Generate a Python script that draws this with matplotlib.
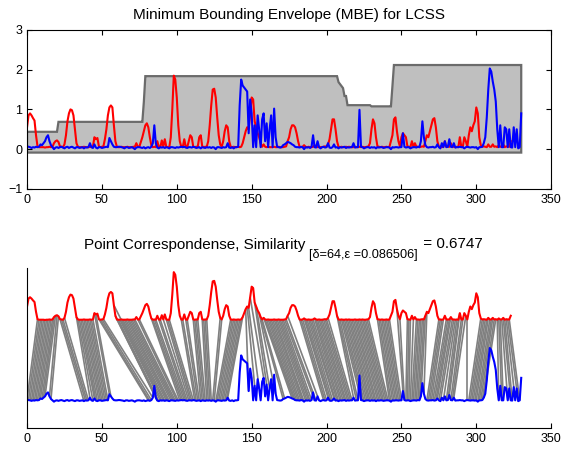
import numpy as np
import matplotlib.pyplot as plt
from matplotlib.collections import LineCollection

plt.rcParams['font.family'] = ['Liberation Sans', 'DejaVu Sans']

# query (red) and candidate (blue) series
red = [0.55, 0.85, 0.9, 0.85, 0.78, 0.72, 0.35, 0.07, 0.05, 0.05,
       0.05, 0.05, 0.04, 0.05, 0.05, 0.06, 0.05, 0.06, 0.15, 0.2,
       0.22, 0.18, 0.07, 0.06, 0.05, 0.12, 0.35, 0.7, 0.9, 1.0,
       0.98, 0.85, 0.5, 0.15, 0.06, 0.05, 0.05, 0.05, 0.06, 0.05,
       0.05, 0.05, 0.06, 0.05, 0.06, 0.3, 0.25, 0.28, 0.07, 0.05,
       0.06, 0.07, 0.25, 0.5, 0.85, 1.05, 1.1, 1.05, 0.6, 0.2,
       0.06, 0.05, 0.05, 0.06, 0.05, 0.05, 0.05, 0.06, 0.05, 0.05,
       0.05, 0.06, 0.06, 0.15, 0.06, 0.06, 0.18, 0.3, 0.45, 0.6,
       0.65, 0.55, 0.3, 0.1, 0.05, 0.06, 0.05, 0.2, 0.06, 0.05,
       0.22, 0.06, 0.25, 0.06, 0.05, 0.05, 0.3, 1.0, 1.85, 1.75,
       1.3, 0.6, 0.2, 0.06, 0.05, 0.25, 0.06, 0.05, 0.2, 0.35,
       0.3, 0.06, 0.05, 0.06, 0.06, 0.3, 0.35, 0.07, 0.05, 0.06,
       0.06, 0.2, 0.6, 1.1, 1.5, 1.52, 1.3, 0.8, 0.35, 0.12,
       0.06, 0.2, 0.45, 0.6, 0.55, 0.2, 0.06, 0.05, 0.06, 0.05,
       0.05, 0.06, 0.05, 0.06, 0.15, 0.3, 0.45, 0.55, 0.5, 0.9,
       1.3, 1.25, 0.7, 0.55, 0.4, 0.3, 0.15, 0.06, 0.12, 0.06,
       0.05, 0.06, 0.05, 0.05, 0.05, 0.06, 0.05, 0.05, 0.06, 0.05,
       0.05, 0.05, 0.06, 0.07, 0.2, 0.3, 0.5, 0.6, 0.6, 0.55,
       0.4, 0.2, 0.06, 0.05, 0.06, 0.1, 0.06, 0.05, 0.06, 0.05,
       0.05, 0.06, 0.1, 0.06, 0.05, 0.06, 0.05, 0.05, 0.06, 0.07,
       0.06, 0.12, 0.25, 0.5, 0.75, 0.75, 0.5, 0.2, 0.06, 0.05,
       0.06, 0.05, 0.05, 0.06, 0.05, 0.06, 0.05, 0.05, 0.05, 0.06,
       0.05, 0.05, 0.06, 0.05, 0.06, 0.05, 0.05, 0.06, 0.07, 0.15,
       0.5, 0.75, 0.65, 0.3, 0.07, 0.06, 0.05, 0.06, 0.05, 0.05,
       0.06, 0.05, 0.06, 0.2, 0.35, 0.75, 0.8, 0.45, 0.2, 0.07,
       0.3, 0.4, 0.35, 0.3, 0.07, 0.06, 0.05, 0.2, 0.06, 0.15,
       0.06, 0.06, 0.05, 0.06, 0.07, 0.06, 0.2, 0.35, 0.3, 0.45,
       0.6, 0.75, 0.78, 0.55, 0.2, 0.06, 0.06, 0.05, 0.06, 0.2,
       0.06, 0.06, 0.06, 0.15, 0.06, 0.06, 0.05, 0.06, 0.05, 0.3,
       0.06, 0.06, 0.3, 0.2, 0.06, 0.35, 0.55, 0.45, 0.6, 0.7,
       1.05, 0.9, 0.3, 0.1, 0.06, 0.07, 0.06, 0.05, 0.12, 0.06,
       0.06, 0.12, 0.06, 0.07, 0.05, 0.1, 0.06, 0.06, 0.12, 0.05,
       0.07, 0.06, 0.06, 0.2]

blue = [0.07, 0.06, 0.05, 0.03, 0.05, 0.04, 0.06, 0.05, 0.06, 0.12,
        0.1, 0.15, 0.2, 0.3, 0.35, 0.2, 0.1, 0.05, 0.0, 0.04,
        0.05, 0.03, 0.05, 0.06, 0.04, 0.02, 0.05, 0.06, 0.03, 0.05,
        0.06, 0.04, 0.02, 0.05, 0.05, 0.03, 0.04, 0.05, 0.02, 0.05,
        0.04, 0.05, 0.15, 0.05, 0.03, 0.12, 0.04, 0.02, 0.05, 0.05,
        0.03, 0.04, 0.05, 0.06, 0.05, 0.28, 0.2, 0.12, 0.06, 0.05,
        0.05, 0.06, 0.06, 0.05, 0.04, 0.02, 0.05, 0.05, 0.03, 0.04,
        0.05, 0.03, 0.0, 0.04, 0.05, 0.05, 0.04, 0.03, 0.05, 0.02,
        0.04, 0.05, 0.03, 0.06, 0.15, 0.6, 0.15, 0.04, 0.02, 0.05,
        0.04, 0.05, 0.03, 0.05, 0.04, 0.02, 0.05, 0.05, 0.04, 0.03,
        0.05, 0.04, 0.05, 0.06, 0.05, 0.06, 0.04, 0.03, 0.05, 0.05,
        0.04, 0.06, 0.05, 0.03, 0.04, 0.05, 0.02, 0.05, 0.04, 0.03,
        0.05, 0.04, 0.05, 0.03, 0.05, 0.04, 0.0, 0.05, 0.05, 0.04,
        0.03, 0.05, 0.04, 0.05, 0.15, 0.04, 0.03, 0.05, 0.02, 0.05,
        0.05, 0.06, 1.1, 1.75, 1.6, 1.55, 1.5, 1.45, 0.4, 1.25,
        0.9, 0.05, 0.6, 0.05, 0.85, 0.5, 0.05, 0.75, 0.9, 0.2,
        0.65, 0.05, 0.5, 0.85, 0.05, 1.02, 0.3, 0.06, 0.05, 0.04,
        0.05, 0.1, 0.12, 0.15, 0.18, 0.17, 0.15, 0.12, 0.1, 0.06,
        0.05, 0.05, 0.04, 0.06, 0.05, 0.0, 0.05, 0.04, 0.05, 0.03,
        0.06, 0.35, 0.05, 0.04, 0.2, 0.05, 0.02, 0.05, 0.06, 0.04,
        0.05, 0.15, 0.04, 0.03, 0.05, 0.12, 0.04, 0.05, 0.02, 0.05,
        0.04, 0.05, 0.06, 0.03, 0.05, 0.04, 0.05, 0.05, 0.15, 0.04,
        0.05, 0.05, 0.99, 0.06, 0.05, 0.02, 0.04, 0.05, 0.05, 0.03,
        0.05, 0.04, 0.05, 0.02, 0.05, 0.04, 0.05, 0.05, 0.03, 0.04,
        0.05, 0.05, 0.04, 0.0, 0.05, 0.04, 0.05, 0.05, 0.04, 0.05,
        0.05, 0.4, 0.06, 0.04, 0.05, 0.05, 0.02, 0.04, 0.05, 0.05,
        0.04, 0.06, 0.05, 0.2, 0.7, 0.3, 0.1, 0.05, 0.04, 0.05,
        0.05, 0.06, 0.04, 0.05, 0.12, 0.05, 0.02, 0.15, 0.05, 0.2,
        0.05, 0.06, 0.25, 0.06, 0.05, 0.15, 0.04, 0.05, 0.05, 0.06,
        0.05, 0.05, 0.02, 0.05, 0.06, 0.05, 0.04, 0.05, 0.05, 0.04,
        0.05, 0.0, 0.05, 0.05, 0.06, 0.15, 0.3, 0.8, 1.5, 2.03,
        1.95, 1.7, 1.5, 1.2, 0.5, 0.05, 0.6, 0.05, 0.05, 0.55,
        0.5, 0.05, 0.5, 0.05, 0.04, 0.55, 0.05, 0.5, 0.02, 0.05, 0.9]

delta = 64
eps = 0.086506
similarity = 0.6747
offset = 3.05


def lcss_pairs(a, b, d, e):
    n, m = len(a), len(b)
    L = np.zeros((n + 1, m + 1), dtype=int)
    for i in range(1, n + 1):
        for j in range(1, m + 1):
            if abs(a[i-1] - b[j-1]) < e and abs(i - j) <= d:
                L[i, j] = L[i-1, j-1] + 1
            else:
                L[i, j] = max(L[i-1, j], L[i, j-1])
    pairs = []
    i, j = n, m
    while i > 0 and j > 0:
        if abs(a[i-1] - b[j-1]) < e and abs(i - j) <= d and L[i, j] == L[i-1, j-1] + 1:
            pairs.append((i-1, j-1))
            i -= 1
            j -= 1
        elif L[i-1, j] >= L[i, j-1]:
            i -= 1
        else:
            j -= 1
    return pairs


r = np.array(red)
b = np.array(blue)
xb = np.arange(len(b))
xr = np.arange(len(r))

# minimum bounding envelope of the blue series
upper = np.array([b[max(0, k-delta):k+delta+1].max() for k in xb]) + eps
lower = np.array([b[max(0, k-delta):k+delta+1].min() for k in xb]) - eps

fig = plt.figure(figsize=(5.63, 4.53), dpi=100)

ax1 = fig.add_axes([0.048, 0.583, 0.931, 0.351])
px = np.concatenate([xb, xb[::-1]])
py = np.concatenate([upper, lower[::-1]])
ax1.fill(px, py, facecolor=(0.75, 0.75, 0.75), edgecolor=(0.42, 0.42, 0.42), linewidth=1.6)
ax1.plot(xr, r, color='r', linewidth=1.5)
ax1.plot(xb, b, color='b', linewidth=1.5)
ax1.set_xlim(0, 350)
ax1.set_ylim(-1, 3)
ax1.set_xticks(np.arange(0, 351, 50))
ax1.set_yticks([-1, 0, 1, 2, 3])
ax1.tick_params(direction='in', top=True, right=True, labelsize=9, length=3.5)
ax1.set_title('Minimum Bounding Envelope (MBE) for LCSS', fontsize=11, pad=8)

ax2 = fig.add_axes([0.048, 0.055, 0.931, 0.353])
pairs = lcss_pairs(r, b, delta, eps)
segs = [[(i, r[i] + offset), (j, b[j])] for i, j in pairs]
ax2.add_collection(LineCollection(segs, colors=(0.5, 0.5, 0.5), linewidths=1.2))
ax2.plot(xr, r + offset, color='r', linewidth=1.5)
ax2.plot(xb, b, color='b', linewidth=1.5)
ax2.set_xlim(0, 350)
ax2.set_ylim(-1.0, 5.05)
ax2.set_xticks(np.arange(0, 351, 50))
ax2.set_yticks([])
ax2.spines['top'].set_visible(False)
ax2.spines['right'].set_visible(False)
ax2.tick_params(direction='in', labelsize=9, length=3.5)

t1 = fig.text(83.5 / 563, 1 - 248.5 / 453, 'Point Correspondense, Similarity',
              fontsize=11, va='baseline', ha='left')
t2 = ax2.annotate('[\u03b4=64,\u03b5 =%g]' % eps, xy=(1, 0), xycoords=t1,
                  xytext=(3, -6.5), textcoords='offset points',
                  fontsize=9.2, va='bottom', ha='left', annotation_clip=False)
t3 = ax2.annotate(' = %.4f' % similarity, xy=(1, 0), xycoords=t2,
                  xytext=(1, 6.5), textcoords='offset points',
                  fontsize=11, va='bottom', ha='left', annotation_clip=False)

plt.savefig('out.png', dpi=100)
